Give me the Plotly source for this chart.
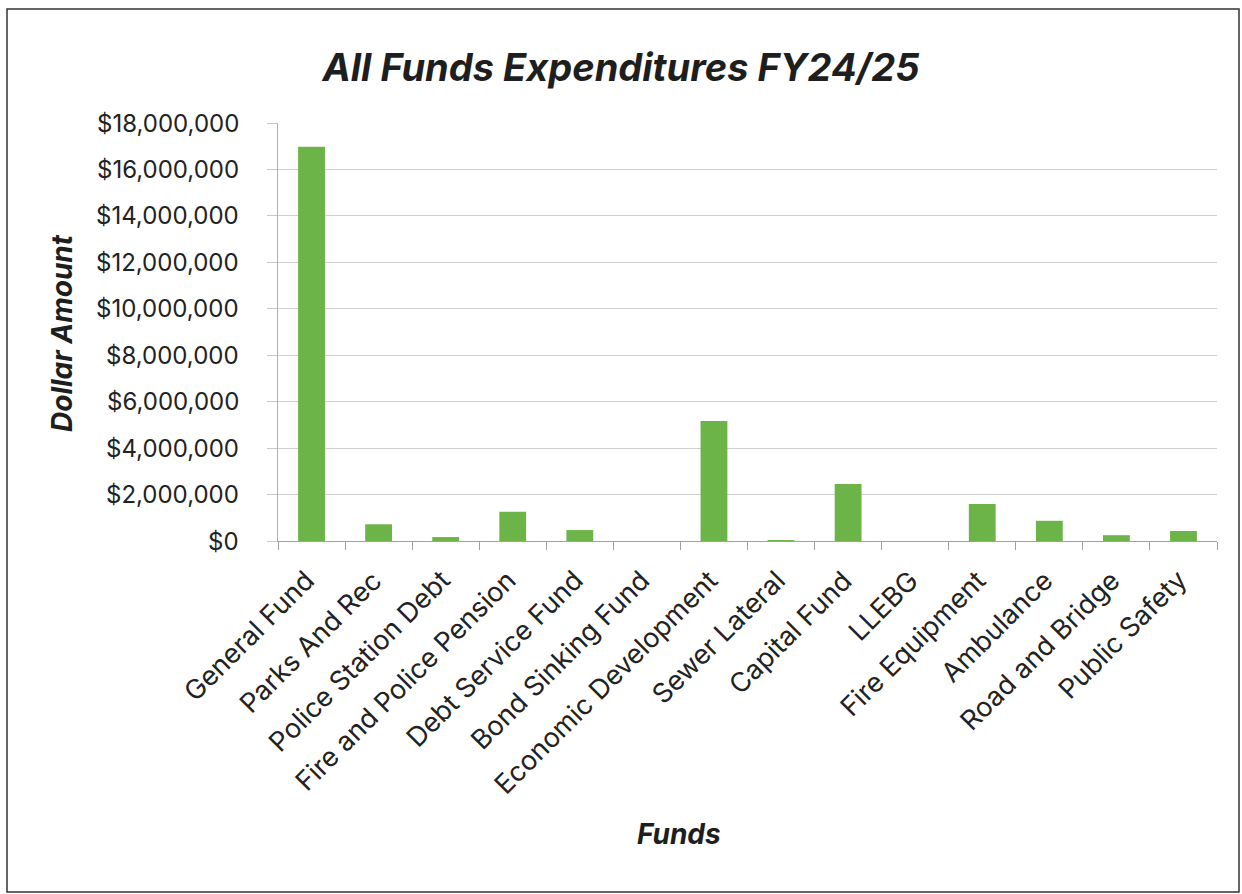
import plotly.graph_objects as go

categories = ["General Fund", "Parks And Rec", "Police Station Debt", "Fire and Police Pension",
              "Debt Service Fund", "Bond Sinking Fund", "Economic Development", "Sewer Lateral",
              "Capital Fund", "LLEBG", "Fire Equipment", "Ambulance", "Road and Bridge", "Public Safety"]
expenditures = [16980000, 720000, 170000, 1260000, 470000, 0, 5170000, 30000,
                2450000, 0, 1590000, 870000, 250000, 430000]
y_ticks = [0, 2000000, 4000000, 6000000, 8000000, 10000000, 12000000, 14000000, 16000000, 18000000]
y_tick_labels = ["$0", "$2,000,000", "$4,000,000", "$6,000,000", "$8,000,000", "$10,000,000",
                 "$12,000,000", "$14,000,000", "$16,000,000", "$18,000,000"]

W, H = 1242, 894
L, R, T, B = 278, 25, 123, 353
pw, ph = W - L - R, H - T - B

def px(x):
    return (x - L) / pw

def py(y):
    return (H - B - y) / ph

font_main = "Inter, 'Open Sans', sans-serif"

fig = go.Figure(go.Bar(
    x=list(range(len(categories))), y=expenditures,
    hovertext=categories,
    marker=dict(color="#6cb447", line=dict(width=0)),
    width=0.4,
))

annotations = [
    dict(text="<b><i>Dollar Amount</i></b>", xref="paper", yref="paper",
         x=px(62), y=py(333), textangle=-90, showarrow=False,
         xanchor="center", yanchor="middle",
         font=dict(size=28, color="#1e1e1e")),
    dict(text="<b><i>Funds</i></b>", xref="paper", yref="paper",
         x=px(679), y=py(834), showarrow=False,
         xanchor="center", yanchor="middle",
         font=dict(size=28, color="#1e1e1e")),
]
# category labels, rotated
for i, cat in enumerate(categories):
    annotations.append(dict(
        text=cat, xref="x", yref="paper", x=i, y=0,
        xshift=13, yshift=-20, textangle=-45, showarrow=False,
        xanchor="right", yanchor="top",
        font=dict(size=27, color="#222222"),
    ))
# value-axis labels
for v, lab in zip(y_ticks, y_tick_labels):
    annotations.append(dict(
        text=lab, xref="paper", yref="y", x=0, y=v,
        xshift=-37, showarrow=False, xanchor="right", yanchor="middle",
        font=dict(size=24, color="#222222"),
    ))

fig.update_layout(
    width=W, height=H,
    margin=dict(l=L, r=R, t=T, b=B),
    paper_bgcolor="white", plot_bgcolor="white",
    showlegend=False,
    font=dict(family=font_main, color="#222222"),
    title=dict(text="<b><i>All Funds Expenditures FY24/25</i></b>",
               x=0.5, xanchor="center", xref="container",
               y=1 - 68 / H, yanchor="middle",
               font=dict(size=38, color="#1e1e1e", family=font_main)),
    xaxis=dict(
        range=[-0.5, len(categories) - 0.5],
        tickmode="linear", tick0=-0.5, dtick=1,
        ticks="outside", ticklen=8, tickcolor="#a0a0a0", tickwidth=1,
        showticklabels=False,
        showline=True, linecolor="#a0a0a0", linewidth=1,
        showgrid=False, zeroline=False,
    ),
    yaxis=dict(
        range=[0, 18000000], tickvals=y_ticks,
        showticklabels=False,
        ticks="outside", ticklen=10, tickcolor="#c8c8c8", tickwidth=1,
        showline=True, linecolor="#b0b0b0", linewidth=1,
        showgrid=True, gridcolor="#cfcfcf", gridwidth=1,
        zeroline=False,
    ),
    annotations=annotations,
    shapes=[
        dict(type="rect", xref="paper", yref="paper",
             x0=px(7), x1=px(1239), y0=py(892), y1=py(9),
             line=dict(color="#333333", width=1.5), fillcolor="rgba(0,0,0,0)", layer="below"),
    ],
)

fig.write_html("out.html", config={"displayModeBar": False},
               post_script="document.body.style.margin='0';")
